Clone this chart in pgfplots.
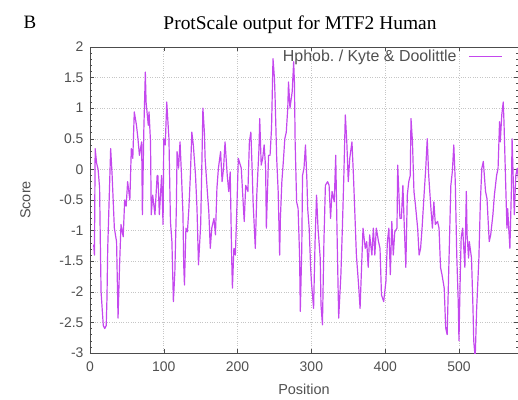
\documentclass[border=0pt]{standalone}
\usepackage{fontspec}
\setmainfont{Liberation Serif}
\newfontfamily\sansf{Liberation Sans}
\usepackage{pgfplots}
\pgfplotsset{compat=1.18}
\definecolor{kd}{RGB}{196,72,238}
\definecolor{txtgray}{RGB}{80,80,80}
\frenchspacing
\begin{document}
\begin{tikzpicture}
\begin{axis}[
  scale only axis,
  width=428bp, height=306bp,
  at={(0,0)}, anchor=south west,
  xmin=0, xmax=580, ymin=-3, ymax=2,
  xtick={0,100,200,300,400,500},
  ytick={-3,-2.5,-2,-1.5,-1,-0.5,0,0.5,1,1.5,2},
  yticklabels={-3,-2.5,-2,-1.5,-1,-0.5,0,0.5,1,1.5,2},
  xticklabels={0,100,200,300,400,500},
  minor y tick num=4,
  tick align=inside,
  major tick length=4bp, minor tick length=2bp,
  tick style={black!70, line width=0.5pt},
  axis line style={black!70, line width=0.7pt},
  grid=major,
  major grid style={gray!45, dotted, line width=0.6pt},
  ticklabel style={font=\sansf\fontsize{14}{14}\selectfont, text=txtgray},
  yticklabel style={xshift=-3bp},
  xticklabel style={yshift=-5bp},
  xlabel={Position}, ylabel={Score},
  label style={font=\sansf\fontsize{14.5}{15}\selectfont, text=txtgray},
  xlabel style={yshift=-6bp},
  ylabel style={yshift=22bp},
  legend style={at={(1,1)}, anchor=north east, draw=none, fill=none,
    font=\sansf\fontsize{16}{16}\selectfont, text=txtgray,
    xshift=-14bp, yshift=0bp, inner sep=1bp},
  legend cell align=right,
  legend plot pos=right,
  legend image code/.code={\path (0bp,0bp); \draw[#1] (10bp,0bp) -- (43bp,0bp);},
]
\addplot[kd, line width=1.2pt, line join=round] coordinates {
(5,-1.23) (6,-1.4) (7,0.34) (9,0.1) (11,0.0) (13,-0.3) (14,-1.2) (15,-2.0)
(18,-2.55) (20,-2.6) (22,-2.55) (23,-2.1) (24,-1.3) (28,0.34) (30,-0.1)
(33,-0.96) (36,-1.18) (38,-2.43) (40,-1.6) (42,-0.9) (45,-1.1) (47,-0.5)
(49,-0.6) (51,-0.2) (54,-0.5) (56,0.34) (58,0.18) (60,0.94) (63,0.72)
(65,0.5) (67,0.23) (70,0.45) (71,-0.74) (73,0.67) (75,1.59) (76,1.1)
(79,0.72) (80,0.94) (82,0.45) (83,-0.74) (85,-0.42) (88,-0.74) (91,-0.1)
(92,-0.1) (94,-0.74) (97,-0.1) (99,-0.9) (100,0.5) (102,0.4) (104,1.1)
(107,0.5) (109,-0.85) (111,-1.18) (113,-2.16) (115,-1.67) (117,-0.64)
(118,0.29) (120,0.02) (122,0.45) (124,-0.1) (126,-0.74) (127,-1.56)
(128,-1.89) (130,-0.96) (132,-1.02) (134,-0.64) (136,-0.1) (138,0.61)
(140,0.4) (143,-0.1) (145,-0.64) (147,-1.56) (150,-0.9) (152,0.34)
(153,1.0) (155,0.61) (156,0.18) (159,-0.36) (161,-0.69) (163,-1.29)
(165,-0.96) (168,-0.8) (170,-1.07) (172,-0.31) (174,0.02) (177,0.29)
(179,-0.2) (181,0.02) (183,0.45) (186,-0.1) (188,-0.36) (190,-0.04)
(192,-1.45) (193,-1.94) (195,-1.29) (197,-1.4) (199,-0.64) (201,0.18)
(203,0.1) (205,0.02) (206,-0.2) (208,-0.64) (209,-0.85) (211,-0.26)
(214,-0.36) (216,0.45) (218,0.61) (220,-0.1) (221,-0.53) (224,-1.29)
(226,-0.42) (229,0.34) (230,0.83) (232,0.07) (234,0.18) (236,0.4)
(238,0.02) (239,-0.96) (242,0.23) (244,0.23) (246,0.67) (248,1.81)
(250,1.48) (251,1.1) (253,0.18) (255,-0.36) (257,-1.4) (258,-0.8)
(260,-0.2) (262,0.13) (264,0.5) (266,0.61) (268,1.0) (269,1.43) (271,1.0)
(274,1.27) (276,1.76) (277,1.43) (278,0.45) (280,-0.53) (282,-0.64)
(284,-1.4) (285,-2.32) (287,-1.29) (288,-0.1) (290,0.02) (292,0.4)
(294,-0.2) (295,-0.64) (297,-0.96) (299,-1.6) (300,-1.83) (303,-2.27)
(305,-1.18) (307,-0.42) (309,-0.96) (312,-1.45) (313,-2.21) (315,-2.54)
(317,-1.18) (319,-0.26) (322,-0.2) (324,-0.26) (326,-0.8) (328,-0.36)
(331,-0.53) (333,0.23) (335,-1.18) (337,-2.43) (340,-1.72) (342,-0.96)
(344,-0.1) (346,0.89) (348,0.45) (350,-0.2) (352,0.18) (355,0.45)
(357,-0.1) (359,-0.74) (361,-1.4) (364,-1.89) (366,-2.27) (368,-1.6)
(370,-0.96) (373,-1.29) (375,-1.18) (377,-1.6) (379,-1.07) (382,-1.4)
(384,-0.96) (386,-1.4) (388,-0.96) (391,-1.18) (393,-1.29) (395,-2.05)
(398,-2.16) (401,-1.83) (403,-1.18) (405,-0.96) (407,-1.72) (409,-0.85)
(411,-1.4) (413,-1.02) (416,-0.96) (417,0.07) (420,-0.8) (422,-0.8)
(424,-0.26) (426,-0.96) (428,-1.6) (430,-0.42) (432,-0.2) (434,-0.1)
(435,0.83) (437,0.45) (439,-0.36) (441,-0.58) (444,-0.96) (446,-1.4)
(448,-1.29) (450,-0.96) (453,-0.36) (455,0.02) (457,0.5) (459,-0.1)
(462,-0.64) (464,-0.96) (466,-0.53) (468,-0.9) (471,-0.85) (473,-0.96)
(475,-1.6) (477,-1.72) (480,-1.94) (482,-2.59) (484,-2.7) (486,-1.72)
(489,-0.26) (491,-0.04) (493,0.4) (495,-0.2) (497,-1.4) (499,-2.16)
(500,-2.8) (502,-1.6) (503,-1.12) (505,-0.96) (508,-1.6) (510,-0.36)
(511,-1.07) (513,-1.45) (514,-1.18) (517,-1.45) (519,-2.27) (520,-2.8)
(522,-3.08) (524,-2.27) (527,-1.45) (529,-0.53) (531,0.02) (533,0.13)
(536,-0.36) (538,-0.48) (541,-1.18) (543,-1.07) (546,-0.74) (548,-0.42)
(551,-0.1) (553,0.02) (555,0.78) (556,0.45) (558,0.89) (560,1.1)
(561,0.78) (563,-0.1) (565,-0.96) (566,-0.64) (569,-1.29) (571,-0.36)
(572,0.5) (574,-0.36) (575,-0.74) (577,-0.1) (579,0.02) (581,-0.2)
};
\addlegendentry{Hphob.\ / Kyte \& Doolittle}
\end{axis}
\node[font=\fontsize{19}{19}\selectfont] at (-60bp,331bp) {B};
\node[font=\fontsize{19.5}{20}\selectfont] at (210bp,328bp) {ProtScale output for MTF2 Human};
\pgfresetboundingbox
\path (-90bp,-47bp) rectangle (428bp,353bp);
\end{tikzpicture}
\end{document}
